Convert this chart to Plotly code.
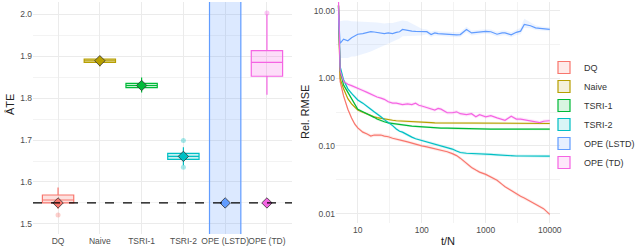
import plotly.graph_objects as go

# ---------------- data: left panel (ATE estimates) ----------------
methods = ["DQ", "Naive", "TSRI-1", "TSRI-2", "OPE (LSTD)", "OPE (TD)"]
colors = ["#F8766D", "#B79F00", "#00BA38", "#00BFC4", "#619CFF", "#F564E3"]
box_q1 = [1.550, 1.885, 1.825, 1.654, 0.90, 1.852]
box_median = [1.557, 1.889, 1.830, 1.661, 1.20, 1.885]
box_q3 = [1.569, 1.893, 1.835, 1.668, 2.60, 1.913]
box_low = [1.536, 1.875, 1.813, 1.640, 0.20, 1.808]
box_high = [1.587, 1.900, 1.849, 1.683, 4.00, 2.000]
mean_ate = [1.550, 1.889, 1.830, 1.661, 1.550, 1.550]
outlier_method = ["DQ", "TSRI-2", "TSRI-2", "OPE (TD)"]
outlier_value = [1.521, 1.699, 1.635, 2.003]
true_ate = 1.55
ate_ticks = [1.5, 1.6, 1.7, 1.8, 1.9, 2.0]

# ---------------- data: right panel (relative RMSE vs t/N) ----------------
t_over_n = [5, 5.3, 6, 7, 8, 9, 10, 12, 14, 16, 18, 20, 23, 26, 30, 35, 40, 45, 50, 60,
            70, 80, 90, 100, 120, 140, 160, 180, 200, 250, 300, 350, 400, 500, 600, 700,
            800, 1000, 1200, 1500, 1800, 2000, 2500, 3000, 3500, 4000, 5000, 6000, 7000,
            8000, 10000]
rmse_dq = [12, 0.9, 0.55, 0.35, 0.26, 0.21, 0.185, 0.16, 0.15, 0.14, 0.145, 0.145, 0.145,
           0.14, 0.137, 0.13, 0.127, 0.123, 0.12, 0.115, 0.11, 0.105, 0.102, 0.10, 0.097,
           0.094, 0.09, 0.088, 0.086, 0.082, 0.077, 0.072, 0.066, 0.055, 0.048, 0.044,
           0.041, 0.038, 0.035, 0.031, 0.027, 0.025, 0.022, 0.0195, 0.018, 0.017, 0.0152,
           0.0138, 0.0128, 0.0118, 0.0097]
rmse_naive = [12, 1.0, 0.7, 0.5, 0.42, 0.37, 0.34, 0.315, 0.295, 0.285, 0.27, 0.262, 0.255,
              0.25, 0.245, 0.24, 0.236, 0.234, 0.232, 0.23, 0.228, 0.226, 0.225, 0.224,
              0.222, 0.221, 0.22, 0.22, 0.22, 0.219, 0.219, 0.218, 0.218, 0.218, 0.217,
              0.217, 0.217, 0.217, 0.216, 0.216, 0.216, 0.216, 0.216, 0.215, 0.215, 0.215,
              0.215, 0.215, 0.215, 0.215, 0.215]
rmse_tsri1 = [12, 1.3, 0.8, 0.62, 0.5, 0.42, 0.35, 0.32, 0.30, 0.285, 0.265, 0.25, 0.235,
              0.228, 0.22, 0.215, 0.21, 0.207, 0.205, 0.20, 0.197, 0.195, 0.193, 0.191,
              0.189, 0.187, 0.186, 0.185, 0.184, 0.183, 0.182, 0.181, 0.181, 0.18, 0.18,
              0.179, 0.179, 0.179, 0.178, 0.178, 0.178, 0.178, 0.177, 0.177, 0.177, 0.177,
              0.177, 0.177, 0.177, 0.177, 0.177]
rmse_tsri2 = [12, 1.5, 0.95, 0.7, 0.6, 0.53, 0.48, 0.43, 0.39, 0.35, 0.32, 0.30, 0.27,
              0.245, 0.225, 0.2, 0.178, 0.165, 0.16, 0.145, 0.135, 0.128, 0.124, 0.12,
              0.115, 0.11, 0.106, 0.103, 0.10, 0.095, 0.09, 0.084, 0.08, 0.078, 0.077,
              0.076, 0.076, 0.075, 0.075, 0.074, 0.073, 0.072, 0.072, 0.071, 0.071, 0.071,
              0.0705, 0.0705, 0.0705, 0.0705, 0.0705]
rmse_lstd = [9, 3.3, 3.8, 3.6, 4.0, 4.2, 4.5, 4.6, 4.8, 4.9, 4.85, 4.8, 4.75, 4.6, 4.7, 4.6,
             4.8, 4.9, 5.3, 5.1, 5.0, 4.95, 4.9, 4.85, 4.9, 4.45, 4.7, 4.6, 4.55, 4.5, 4.45,
             4.4, 4.45, 5.3, 4.7, 4.8, 4.85, 4.95, 4.9, 4.5, 4.7, 4.7, 4.4, 4.8, 5.0, 6.3,
             6.0, 5.6, 5.5, 5.4, 5.3]
rmse_lstd_lo = [9, 2.0, 2.0, 2.0, 2.1, 2.1, 2.2, 2.3, 2.4, 2.5, 2.6, 2.7, 2.9, 3.1, 3.3, 3.5,
                3.7, 3.9, 4.2, 4.2, 4.2, 4.3, 4.3, 4.3, 4.5, 4.1, 4.3, 4.25, 4.2, 4.15, 4.1,
                4.05, 4.1, 4.8, 4.3, 4.4, 4.5, 4.6, 4.5, 4.15, 4.3, 4.35, 4.05, 4.4, 4.5,
                5.6, 5.5, 5.2, 5.1, 5.05, 5.0]
rmse_lstd_hi = [9, 7.0, 7.2, 7.2, 7.0, 7.0, 7.0, 6.9, 6.8, 6.8, 6.7, 6.7, 6.6, 6.5, 6.6, 6.6,
                6.8, 7.0, 7.2, 7.0, 6.5, 6.0, 5.6, 5.4, 5.3, 4.9, 5.1, 5.0, 4.95, 4.9, 4.8,
                4.8, 4.85, 5.8, 5.1, 5.2, 5.25, 5.35, 5.3, 4.9, 5.1, 5.1, 4.8, 5.2, 5.6, 7.6,
                6.7, 6.1, 5.9, 5.8, 5.65]
rmse_td = [15, 1.3, 0.9, 0.82, 0.78, 0.74, 0.70, 0.66, 0.62, 0.58, 0.56, 0.53, 0.51, 0.49,
           0.45, 0.43, 0.43, 0.42, 0.41, 0.42, 0.41, 0.43, 0.40, 0.39, 0.37, 0.35, 0.34,
           0.36, 0.35, 0.31, 0.31, 0.32, 0.30, 0.29, 0.30, 0.27, 0.29, 0.27, 0.28, 0.26,
           0.25, 0.24, 0.275, 0.25, 0.25, 0.245, 0.236, 0.23, 0.222, 0.232, 0.236]
band_ratio = [1.06, 1.04, 1.04, 1.05, None, 1.06]
rmse_ticks = [0.01, 0.1, 1, 10]
rmse_ticktext = ["0.01", "0.10", "1.00", "10.00"]
t_ticks = [10, 100, 1000, 10000]

rmse_series = [rmse_dq, rmse_naive, rmse_tsri1, rmse_tsri2, rmse_lstd, rmse_td]


def rgba(hex_color, a):
    h = hex_color.lstrip("#")
    r, g, b = int(h[0:2], 16), int(h[2:4], 16), int(h[4:6], 16)
    return f"rgba({r},{g},{b},{a})"


FONT = "Liberation Sans, Arial, sans-serif"
TICK_COLOR = "#4D4D4D"
GRID = "#EBEBEB"
GRID_MINOR = "#F3F3F3"

fig = go.Figure()

# ---- left panel boxes ----
for i, m in enumerate(methods):
    fig.add_trace(go.Box(
        x=[m], q1=[box_q1[i]], median=[box_median[i]], q3=[box_q3[i]],
        lowerfence=[box_low[i]], upperfence=[box_high[i]],
        width=0.75, whiskerwidth=0, boxpoints=False,
        fillcolor=rgba(colors[i], 0.22), line=dict(color=colors[i], width=1.2),
        xaxis="x", yaxis="y", showlegend=False, hoverinfo="skip"))

# outliers
for m, v in zip(outlier_method, outlier_value):
    c = colors[methods.index(m)]
    fig.add_trace(go.Scatter(
        x=[m], y=[v], mode="markers", xaxis="x", yaxis="y", showlegend=False,
        marker=dict(size=5, color=rgba(c, 0.35), line=dict(width=0))))

# means (diamonds)
fig.add_trace(go.Scatter(
    x=methods, y=mean_ate, mode="markers", xaxis="x", yaxis="y", showlegend=False,
    marker=dict(symbol="diamond", size=8, color=colors,
                line=dict(color="#333333", width=0.8))))

fig.add_shape(type="line", xref="x domain", yref="y", x0=0, x1=1, y0=true_ate, y1=true_ate,
              line=dict(color="black", width=1.2, dash="dash"))

# ---- right panel ribbons + lines ----
for i, m in enumerate(methods):
    vals = rmse_series[i]
    if band_ratio[i] is None:
        lo, hi = rmse_lstd_lo, rmse_lstd_hi
        alpha = 0.12
    else:
        lo = [v / band_ratio[i] for v in vals]
        hi = [v * band_ratio[i] for v in vals]
        alpha = 0.15
    fig.add_trace(go.Scatter(
        x=t_over_n + t_over_n[::-1], y=hi + lo[::-1], fill="toself",
        fillcolor=rgba(colors[i], alpha), line=dict(width=0), mode="lines",
        xaxis="x2", yaxis="y2", showlegend=False, hoverinfo="skip"))

for i, m in enumerate(methods):
    fig.add_trace(go.Scatter(
        x=t_over_n, y=rmse_series[i], mode="lines", name=m,
        line=dict(color=colors[i], width=1.2), xaxis="x2", yaxis="y2",
        showlegend=False))

# legend-only entries (ggplot-style keys)
for i, m in enumerate(methods):
    fig.add_trace(go.Scatter(
        x=[None], y=[None], mode="markers", name=m, xaxis="x2", yaxis="y2",
        marker=dict(symbol="square", size=12, color=rgba(colors[i], 0.15),
                    line=dict(color=colors[i], width=1.2))))

W, H = 640, 248
fig.update_layout(
    width=W, height=H,
    margin=dict(l=0, r=0, t=0, b=0),
    paper_bgcolor="white", plot_bgcolor="white",
    font=dict(family=FONT, size=9, color=TICK_COLOR),
    boxmode="overlay",
    xaxis=dict(domain=[33 / W, 292 / W], type="category", categoryorder="array",
               categoryarray=methods, range=[-0.6, 5.6], showgrid=True, gridcolor=GRID,
               gridwidth=1, zeroline=False, showline=False, ticks="", tickangle=0,
               automargin=False,
               tickfont=dict(size=8.5, color=TICK_COLOR), anchor="y"),
    yaxis=dict(domain=[1 - 234 / H, 1 - 2 / H], range=[1.476, 2.029], tickvals=ate_ticks,
               ticktext=[f"{v:.1f}" for v in ate_ticks], showgrid=True, gridcolor=GRID,
               gridwidth=1, zeroline=False, showline=False, ticks="", automargin=False,
               minor=dict(tickvals=[1.55, 1.65, 1.75, 1.85, 1.95], showgrid=True,
                          gridcolor=GRID_MINOR, gridwidth=0.8, ticks=""),
               tickfont=dict(size=8.5, color=TICK_COLOR), anchor="x"),
    xaxis2=dict(domain=[336 / W, 560 / W], type="log", range=[0.66, 4.16],
                tickvals=t_ticks, ticktext=[str(v) for v in t_ticks], showgrid=True,
                gridcolor=GRID, gridwidth=1, zeroline=False, showline=False, ticks="",
                tickangle=0, automargin=False,
                minor=dict(tickvals=[31.62, 316.2, 3162], showgrid=True,
                           gridcolor=GRID_MINOR, gridwidth=0.8, ticks=""),
                tickfont=dict(size=8.5, color=TICK_COLOR), anchor="y2"),
    yaxis2=dict(domain=[1 - 223 / H, 1 - 2 / H], type="log", range=[-2.14, 1.13],
                tickvals=rmse_ticks, ticktext=rmse_ticktext, showgrid=True,
                gridcolor=GRID, gridwidth=1, zeroline=False, showline=False, ticks="",
                automargin=False,
                minor=dict(tickvals=[0.03162, 0.3162, 3.162], showgrid=True,
                           gridcolor=GRID_MINOR, gridwidth=0.8, ticks=""),
                tickfont=dict(size=8.5, color=TICK_COLOR), anchor="x2"),
    legend=dict(x=1, y=1 - 115 / H, xanchor="right", yanchor="middle",
                font=dict(size=9, color="#333333"), bgcolor="rgba(0,0,0,0)",
                itemwidth=30, tracegroupgap=0, borderwidth=0),
    annotations=[
        dict(text="ÂTE", x=10 / W, y=1 - 105 / H, xref="paper", yref="paper",
             xanchor="center", yanchor="middle",
             textangle=-90, showarrow=False, font=dict(size=11, color="#222222")),
        dict(text="Rel. RMSE", x=305 / W, y=1 - 112 / H, xref="paper", yref="paper",
             xanchor="center", yanchor="middle",
             textangle=-90, showarrow=False, font=dict(size=11, color="#222222")),
        dict(text="t/N", x=448 / W, y=1 - 241 / H, xref="paper", yref="paper",
             xanchor="center", yanchor="middle",
             showarrow=False, font=dict(size=11, color="#222222")),
    ],
)

fig.write_html("out.html", config={"displayModeBar": False},
               post_script="document.body.style.margin='0';document.body.style.overflow='hidden';")
